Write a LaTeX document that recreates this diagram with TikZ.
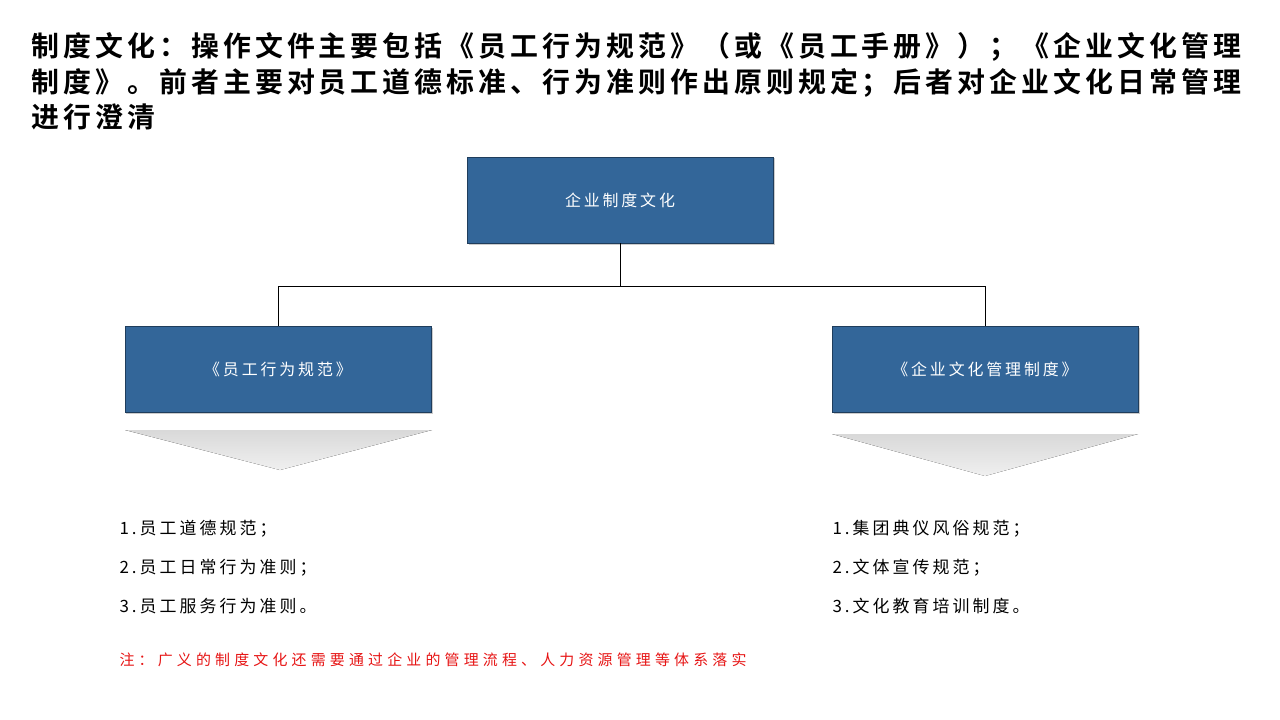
\documentclass[tikz,border=0pt]{standalone}
\usepackage{fontspec}
\setmainfont{Noto Sans CJK SC}
\newfontfamily\spacedfont[LetterSpace=18]{Noto Sans CJK SC}
\newfontfamily\widefont[LetterSpace=28]{Noto Sans CJK SC}
\newfontfamily\titlefont[LetterSpace=14.5]{Noto Sans CJK SC Bold}
\usetikzlibrary{positioning,shadows}
\definecolor{boxblue}{RGB}{51,102,153}
\definecolor{noteRed}{RGB}{230,20,20}
\tikzset{
  unit/.style={draw=boxblue!60!black, fill=boxblue, text=white, minimum width=306bp,
    minimum height=86bp, font=\spacedfont\fontsize{16}{18}\selectfont, drop shadow={shadow xshift=1.5bp,shadow yshift=-1.5bp,opacity=.4}},
  item/.style={anchor=west, font=\spacedfont\fontsize{17}{19}\selectfont},
  heading/.style={anchor=west, font=\titlefont\fontsize{28}{30}\selectfont},
  wedge/.style={top color=gray!30, bottom color=gray!12, draw=none}
}
\begin{document}
\begin{tikzpicture}[x=1bp,y=-1bp]
\useasboundingbox (0,0) rectangle (1280,720);
% title
\node[heading] (t1) at (28,47) {制度文化：操作文件主要包括《员工行为规范》（或《员工手册》）；《企业文化管理};
\node[heading] (t2) at (28,83) {制度》。前者主要对员工道德标准、行为准则作出原则规定；后者对企业文化日常管理};
\node[heading] (t3) at (28,117) {进行澄清};
% boxes
\node[unit] (top) at (620,200) {企业制度文化};
\node[unit] (left) at (278,369) {《员工行为规范》};
\node[unit] (right) at (985,369) {《企业文化管理制度》};
\coordinate (mid) at (620,286);
\draw (top.south) -- (mid) -| (left.north);
\draw (mid) -| (right.north);
% wedges
\fill[wedge] (125,430) -- (432,430) -- (280,470) -- cycle;
\fill[wedge] (832,434) -- (1138,434) -- (985,476) -- cycle;
% lists
\node[item] (l1) at (116,529) {1.员工道德规范；};
\node[item] (l2) at (116,568) {2.员工日常行为准则；};
\node[item] (l3) at (116,606) {3.员工服务行为准则。};
\node[item] (r1) at (829,529) {1.集团典仪风俗规范；};
\node[item] (r2) at (829,568) {2.文体宣传规范；};
\node[item] (r3) at (829,606) {3.文化教育培训制度。};
\node[anchor=west, text=noteRed, font=\widefont\fontsize{15}{17}\selectfont] (note) at (116,660) {注：广义的制度文化还需要通过企业的管理流程、人力资源管理等体系落实};
\end{tikzpicture}
\end{document}
